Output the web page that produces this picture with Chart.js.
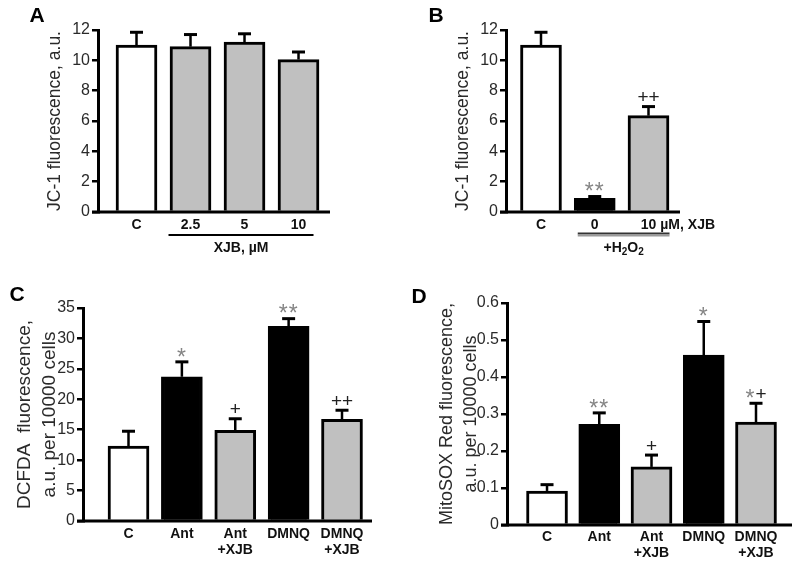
<!DOCTYPE html>
<html>
<head>
<meta charset="utf-8">
<script src="https://cdn.jsdelivr.net/npm/chart.js@4.4.1/dist/chart.umd.min.js"></script>
<style>
  body { margin: 0; background: #fff; width: 800px; height: 565px; position: relative; overflow: hidden; }
  canvas { position: absolute; }
</style>
</head>
<body>
<canvas id="chartA" width="400" height="282" style="left:0;top:0"></canvas>
<canvas id="chartB" width="400" height="282" style="left:400px;top:0"></canvas>
<canvas id="chartC" width="400" height="285" style="left:0;top:280px"></canvas>
<canvas id="chartD" width="400" height="285" style="left:400px;top:280px"></canvas>
<script>
// panel A - JC-1, XJB alone
const labelsA = ['C', '2.5', '5', '10'];
const meansA = [11.0, 10.9, 11.2, 10.05];
const semA = [0.85, 0.8, 0.55, 0.5];
const marksA = ['', '', '', ''];
const yTicksA = [0, 2, 4, 6, 8, 10, 12];

// panel B - JC-1, H2O2 +/- XJB
const labelsB = ['C', '0', '10'];
const meansB = [11.0, 0.9, 6.35];
const semB = [0.85, 0.12, 0.6];
const marksB = ['', '**', '++'];
const yTicksB = [0, 2, 4, 6, 8, 10, 12];

// panel C - DCFDA
const labelsC = ['C', 'Ant', ['Ant', '+XJB'], 'DMNQ', ['DMNQ', '+XJB']];
const meansC = [12.3, 23.7, 14.9, 32.0, 16.7];
const semC = [2.45, 2.45, 1.9, 1.25, 1.5];
const marksC = ['', '*', '+', '**', '++'];
const yTicksC = [0, 5, 10, 15, 20, 25, 30, 35];

// panel D - MitoSOX Red
const labelsD = ['C', 'Ant', ['Ant', '+XJB'], 'DMNQ', ['DMNQ', '+XJB']];
const meansD = [0.092, 0.272, 0.157, 0.459, 0.278];
const semD = [0.017, 0.031, 0.032, 0.091, 0.051];
const marksD = ['', '**', '+', '*', '*+'];
const yTicksD = [0, 0.1, 0.2, 0.3, 0.4, 0.5, 0.6];

const WHITE = '#ffffff';
const GREY = '#c0c0c0';
const BLACK = '#000000';
const FONT = "Arial, 'Liberation Sans', sans-serif";

function drawMark(ctx, text, cx, cy) {
    // asterisks in grey, plus signs in black
    const parts = [...text].map(ch => {
        const star = ch === '*';
        const size = star ? 23 : 19;
        ctx.font = `${size}px ${FONT}`;
        return { ch, star, size, w: ctx.measureText(ch).width + (star ? 1 : 0) };
    });
    let x = cx - parts.reduce((s, p) => s + p.w, 0) / 2;
    ctx.textAlign = 'left';
    ctx.textBaseline = 'alphabetic';
    parts.forEach(p => {
        ctx.font = `${p.size}px ${FONT}`;
        ctx.fillStyle = p.star ? '#858585' : '#222';
        ctx.fillText(p.ch, x, cy + (p.star ? 0.55 : 0.34) * p.size);
        x += p.w;
    });
}

function makePanel(id, cfg) {
    const canvas = document.getElementById(id);
    const W = canvas.width, H = canvas.height;

    const extras = {
        id: 'extras',
        afterDatasetsDraw(chart) {
            const ctx = chart.ctx;
            const xs = chart.scales.x, ys = chart.scales.y;
            const area = chart.chartArea;
            ctx.save();
            ctx.strokeStyle = BLACK;
            // x axis line, sticking out a bit left of the y axis
            ctx.lineWidth = 3;
            ctx.beginPath();
            ctx.moveTo(area.left - 6, area.bottom);
            ctx.lineTo(area.right, area.bottom);
            ctx.stroke();
            // error bars (upper only) and significance marks
            cfg.means.forEach((m, i) => {
                const px = xs.getPixelForValue(i + 1);
                const base = ys.getPixelForValue(m);
                const top = ys.getPixelForValue(m + cfg.sem[i]);
                ctx.lineWidth = 2.5;
                ctx.beginPath();
                ctx.moveTo(px, base);
                ctx.lineTo(px, top);
                ctx.stroke();
                ctx.lineWidth = 3;
                ctx.beginPath();
                ctx.moveTo(px - 6.5, top);
                ctx.lineTo(px + 6.5, top);
                ctx.stroke();
                if (cfg.marks[i]) drawMark(ctx, cfg.marks[i], px, top - 10);
            });
            // panel letter
            ctx.fillStyle = BLACK;
            ctx.font = `bold 21px ${FONT}`;
            ctx.textAlign = 'center';
            ctx.textBaseline = 'middle';
            ctx.fillText(cfg.letter, cfg.letterPos[0], cfg.letterPos[1]);
            if (cfg.group) cfg.group(chart, ctx);
            ctx.restore();
        }
    };

    return new Chart(canvas, {
        type: 'bar',
        data: {
            datasets: [{
                data: cfg.means.map((m, i) => ({ x: i + 1, y: m })),
                backgroundColor: cfg.fills,
                borderColor: BLACK,
                borderWidth: 3,
                borderSkipped: 'start',
                barThickness: 41
            }]
        },
        options: {
            responsive: false,
            animation: false,
            devicePixelRatio: 1,
            layout: { padding: { left: 0, top: cfg.box.top, right: W - cfg.box.right, bottom: 0 } },
            plugins: { legend: { display: false }, tooltip: { enabled: false } },
            scales: {
                x: {
                    type: 'linear',
                    min: cfg.xMin,
                    max: cfg.xMax,
                    bounds: 'data',
                    offset: false,
                    afterBuildTicks: s => { s.ticks = cfg.labels.map((_, i) => ({ value: i + 1 })); },
                    afterFit: s => { s.height = H - cfg.box.bottom; },
                    grid: { display: false, drawTicks: false },
                    border: { display: false },
                    ticks: {
                        autoSkip: false,
                        maxRotation: 0,
                        padding: cfg.labelPad,
                        color: '#111',
                        font: { family: FONT, size: 14, weight: 'bold', lineHeight: 1.08 },
                        callback: (v, i) => cfg.labels[i]
                    }
                },
                y: {
                    min: cfg.yTicks[0],
                    max: cfg.yTicks[cfg.yTicks.length - 1],
                    afterBuildTicks: s => { s.ticks = cfg.yTicks.map(v => ({ value: v })); },
                    afterFit: s => { s.width = cfg.box.left; },
                    grid: { drawOnChartArea: false, drawTicks: true, tickLength: 6, color: BLACK, lineWidth: 2.5 },
                    border: { display: true, color: BLACK, width: 3 },
                    ticks: {
                        padding: 2,
                        color: '#2a2a2a',
                        font: { family: FONT, size: 16 },
                        callback: v => String(+v.toFixed(2))
                    },
                    title: {
                        display: true,
                        text: cfg.yTitle,
                        color: '#2a2a2a',
                        font: { family: FONT, size: cfg.titleSize, lineHeight: cfg.titleLine },
                        padding: { top: cfg.titlePad, bottom: 0 }
                    }
                }
            }
        },
        plugins: [extras]
    });
}

makePanel('chartA', {
    labels: labelsA, means: meansA, sem: semA, marks: marksA, yTicks: yTicksA,
    fills: [WHITE, GREY, GREY, GREY],
    box: { left: 98, right: 330, top: 30, bottom: 212 },
    xMin: 0.287, xMax: 4.583, labelPad: 6,
    yTitle: 'JC-1 fluorescence, a.u.', titleSize: 17.5, titleLine: 1.2, titlePad: 45,
    letter: 'A', letterPos: [37, 16],
    group(chart, ctx) {
        const xs = chart.scales.x, b = chart.chartArea.bottom;
        const x1 = xs.getPixelForValue(2) - 22, x2 = xs.getPixelForValue(4) + 15;
        ctx.strokeStyle = BLACK;
        ctx.lineWidth = 1.8;
        ctx.beginPath();
        ctx.moveTo(x1, b + 23);
        ctx.lineTo(x2, b + 23);
        ctx.stroke();
        ctx.font = `bold 14px ${FONT}`;
        ctx.fillStyle = '#111';
        ctx.fillText('XJB, µM', (x1 + x2) / 2, b + 36);
    }
});

makePanel('chartB', {
    labels: labelsB, means: meansB, sem: semB, marks: marksB, yTicks: yTicksB,
    fills: [WHITE, BLACK, GREY],
    box: { left: 106, right: 280, top: 30, bottom: 212 },
    xMin: 0.349, xMax: 3.586, labelPad: 6,
    yTitle: 'JC-1 fluorescence, a.u.', titleSize: 17.5, titleLine: 1.2, titlePad: 53,
    letter: 'B', letterPos: [36, 16],
    group(chart, ctx) {
        const xs = chart.scales.x, b = chart.chartArea.bottom;
        const x1 = xs.getPixelForValue(2) - 17, x2 = xs.getPixelForValue(3) + 21;
        ctx.lineWidth = 2;
        ctx.strokeStyle = '#333';
        ctx.beginPath();
        ctx.moveTo(x1, b + 21.5);
        ctx.lineTo(x2, b + 21.5);
        ctx.stroke();
        ctx.strokeStyle = '#9a9a9a';
        ctx.beginPath();
        ctx.moveTo(x1, b + 23.5);
        ctx.lineTo(x2, b + 23.5);
        ctx.stroke();
        // unit after the "10" tick label
        ctx.font = `bold 14px ${FONT}`;
        ctx.fillStyle = '#111';
        ctx.textAlign = 'left';
        const p3 = xs.getPixelForValue(3);
        ctx.fillText('µM, XJB', p3 + ctx.measureText('10').width / 2 + 4, b + 13.5);
        // +H2O2 with subscripts
        const pieces = [['+H', 14, 0], ['2', 10, 4], ['O', 14, 0], ['2', 10, 4]];
        const widths = pieces.map(p => { ctx.font = `bold ${p[1]}px ${FONT}`; return ctx.measureText(p[0]).width; });
        let x = (x1 + x2) / 2 - widths.reduce((s, w) => s + w, 0) / 2;
        pieces.forEach((p, i) => {
            ctx.font = `bold ${p[1]}px ${FONT}`;
            ctx.fillText(p[0], x, b + 36 + p[2]);
            x += widths[i];
        });
    }
});

makePanel('chartC', {
    labels: labelsC, means: meansC, sem: semC, marks: marksC, yTicks: yTicksC,
    fills: [WHITE, BLACK, GREY, BLACK, GREY],
    box: { left: 83, right: 372, top: 28, bottom: 241 },
    xMin: 0.1475, xMax: 5.562, labelPad: 6,
    yTitle: ['DCFDA  fluorescence,', 'a.u. per 10000 cells'], titleSize: 19, titleLine: 1.32, titlePad: 12.5,
    letter: 'C', letterPos: [17, 15]
});

makePanel('chartD', {
    labels: labelsD, means: meansD, sem: semD, marks: marksD, yTicks: yTicksD,
    fills: [WHITE, BLACK, GREY, BLACK, GREY],
    box: { left: 107, right: 392, top: 23, bottom: 245 },
    xMin: 0.234, xMax: 5.689, labelPad: 5,
    yTitle: ['MitoSOX Red fluorescence,', 'a.u. per 10000 cells'], titleSize: 18, titleLine: 1.28, titlePad: 36,
    letter: 'D', letterPos: [19, 17]
});
</script>
</body>
</html>
